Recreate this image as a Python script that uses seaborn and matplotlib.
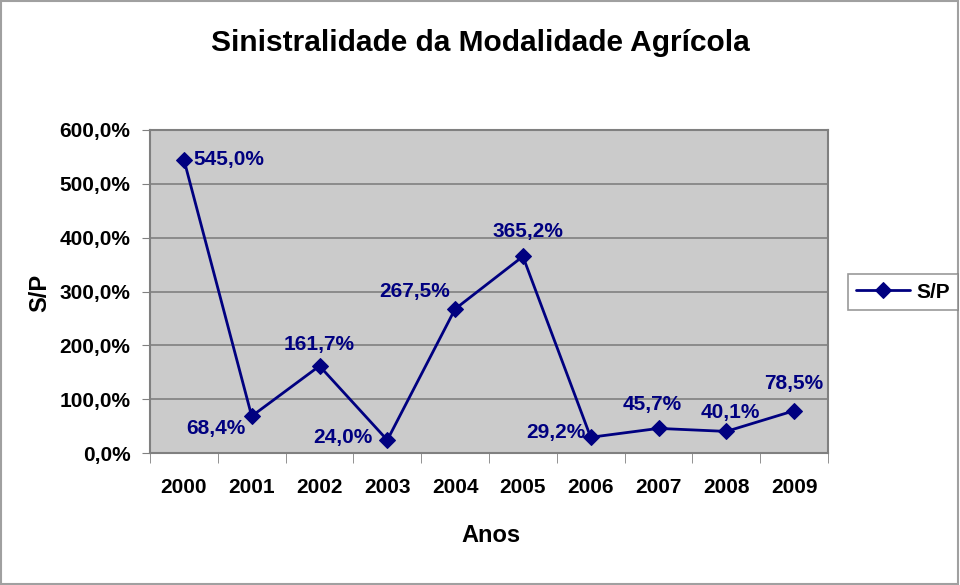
import numpy as np
import pandas as pd
import matplotlib
matplotlib.use("Agg")
import matplotlib.pyplot as plt
import matplotlib.ticker as mticker
from matplotlib.patches import Rectangle
import seaborn as sns

# ── data ──────────────────────────────────────────────────────────────────────
years  = ["2000", "2001", "2002", "2003", "2004", "2005", "2006", "2007", "2008", "2009"]
sp_pct = [545.0, 68.4, 161.7, 24.0, 267.5, 365.2, 29.2, 45.7, 40.1, 78.5]
y_ticks = [0, 100, 200, 300, 400, 500, 600]

# label offsets in pixels (dx, dy) relative to each point
label_off = [(10, 0), (-36, -12), (0, 21), (-44, 3), (-40, 17),
             (5, 25), (-35, 5), (-6, 24), (4, 19), (0, 27)]

NAVY = "#000080"

sns.set_style("white")
plt.rcParams["font.family"] = ["Liberation Sans", "DejaVu Sans"]
plt.rcParams.update({"text.color": "black", "axes.labelcolor": "black",
                     "xtick.color": "black", "ytick.color": "black"})

def pct(v):
    return f"{v:.1f}".replace(".", ",") + "%"

df = pd.DataFrame({"Ano": years, "S/P": sp_pct})

fig = plt.figure(figsize=(9.6, 5.85), dpi=100)
ax = fig.add_axes([150/960, 1 - 453/585, 678/960, 323/585])

sns.lineplot(data=df, x="Ano", y="S/P", ax=ax, color=NAVY, lw=2,
             marker="D", markersize=8, markeredgecolor=NAVY, label="S/P")

ax.set_facecolor("#cbcbcb")
ax.set_xlim(-0.5, len(years) - 0.5)
ax.set_ylim(0, 600)
ax.set_yticks(y_ticks)
ax.yaxis.set_major_formatter(mticker.FuncFormatter(lambda v, p: pct(v)))
ax.grid(axis="y", color="#808080", lw=1.2)
ax.grid(axis="x", visible=False)
ax.set_axisbelow(True)
for s in ax.spines.values():
    s.set_color("#808080")
    s.set_linewidth(1.5)

# x ticks between categories
ax.set_xticks(np.arange(len(years)))
ax.set_xticklabels(years)
ax.xaxis.set_minor_locator(mticker.FixedLocator(np.arange(-0.5, len(years), 1.0)))
ax.tick_params(axis="x", which="major", length=0, pad=18, labelsize=15, labelcolor="black")
ax.tick_params(axis="x", which="minor", length=7, color="#808080", direction="out", bottom=True)
ax.tick_params(axis="y", which="major", length=6, color="#808080", direction="out", left=True,
               labelsize=15, pad=8, labelcolor="black")
for t in ax.get_xticklabels() + ax.get_yticklabels():
    t.set_fontweight("bold")

ax.set_xlabel("")
ax.set_ylabel("")
fig.text(491/960, 1 - 535/585, "Anos", ha="center", va="center", fontsize=17, fontweight="bold")
fig.text(40/960, 1 - 293/585, "S/P", ha="center", va="center", rotation=90,
         fontsize=17, fontweight="bold")

for i, (v, (dx, dy)) in enumerate(zip(sp_pct, label_off)):
    ha = "left" if i == 0 else "center"
    ax.annotate(pct(v), (i, v), xytext=(dx, dy),
                textcoords="offset pixels", ha=ha, va="center",
                fontsize=15, fontweight="bold", color=NAVY)

ax.get_legend().remove()
leg = fig.legend(loc="center", bbox_to_anchor=(903/960, 1 - 292/585),
                 prop={"size": 15, "weight": "bold"},
                 frameon=True, fancybox=False, edgecolor="#808080", handlelength=2.6,
                 borderpad=0.4, handletextpad=0.3, borderaxespad=0)
leg.get_frame().set_linewidth(1.2)

fig.text(0.5, 1 - 43/585, "Sinistralidade da Modalidade Agrícola", ha="center", va="center",
         fontsize=21.5, fontweight="bold")

fig.patches.append(Rectangle((0.001, 0.001), 0.997, 0.997, transform=fig.transFigure,
                             fill=False, edgecolor="#a0a0a0", lw=1.5))

fig.savefig("out.png", dpi=100)
